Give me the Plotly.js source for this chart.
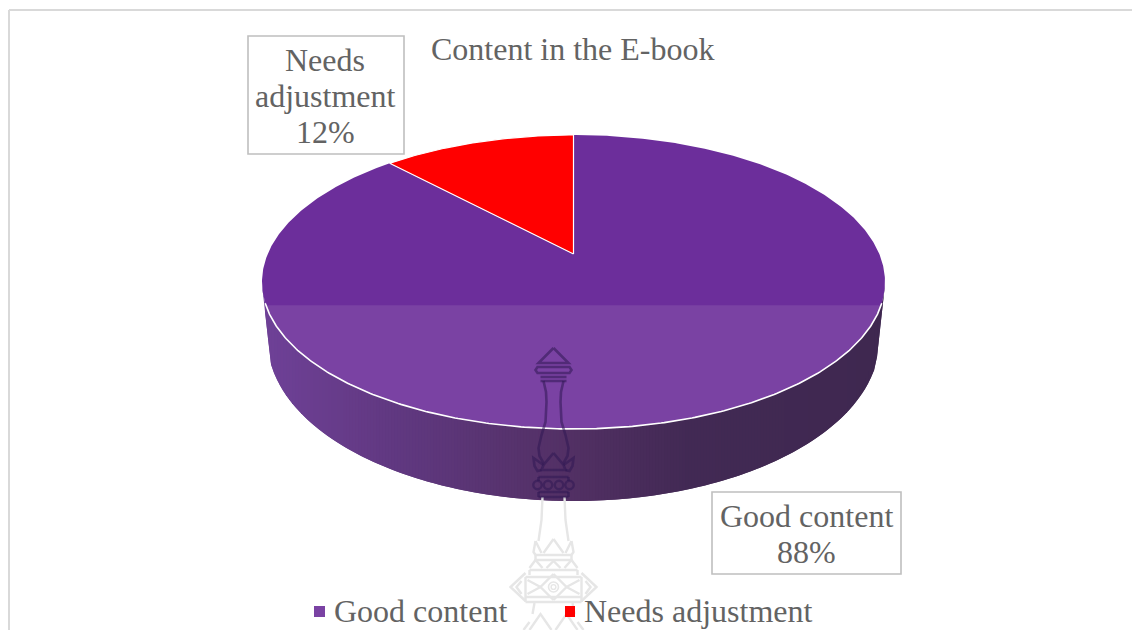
<!DOCTYPE html>
<html>
<head>
<meta charset="utf-8">
<script src="https://cdn.plot.ly/plotly-3.0.1.min.js"></script>
<style>html,body{margin:0;padding:0;background:#fff;overflow:hidden}</style>
</head>
<body>
<div id="chart" style="width:1132px;height:630px"></div>
<script>
// Chart content
const chartTitle = 'Content in the E-book';
const categories = ['Good content', 'Needs adjustment'];
const shares = [88, 12];
const sliceColors = ['#6C2E9B', '#FF0000'];
const legendColors = ['#7A42A3', '#FF0000'];

// Perspective disc model: the pie is a unit circle seen from the front.
const cx = 573.5, tilt = 0.1905;
const topDisc = {a: 305.8, b: 141.67, y0: 254};
const baseDisc = {a: 300.4, b: 155.2, y0: 309.3};

function project(disc, deg) {
  const t = deg * Math.PI / 180, X = Math.sin(t), Y = Math.cos(t), w = 1 + tilt * Y;
  return [cx + disc.a * X / w, disc.y0 - disc.b * Y / w];
}
function arc(disc, from, to, step) {
  const pts = [], n = Math.max(2, Math.ceil(Math.abs(to - from) / (step || 0.5)));
  for (let i = 0; i <= n; i++) pts.push(project(disc, from + (to - from) * i / n));
  return pts;
}
function area(pts, color, lineColor, lineWidth) {
  return {
    type: 'scatter', mode: 'lines', x: pts.map(p => p[0]), y: pts.map(p => p[1]),
    fill: 'toself', fillcolor: color, hoverinfo: 'skip', showlegend: false,
    line: {color: lineColor || color, width: lineWidth === undefined ? 0 : lineWidth}
  };
}
function mix(stops, x) {
  for (let i = 1; i < stops.length; i++) {
    if (x <= stops[i][0]) {
      const f = Math.max(0, (x - stops[i-1][0]) / (stops[i][0] - stops[i-1][0]));
      const c = stops[i-1][1].map((v, k) => Math.round(v + (stops[i][1][k] - v) * f));
      return 'rgb(' + c.join(',') + ')';
    }
  }
  return 'rgb(' + stops[stops.length-1][1].join(',') + ')';
}
// Height of a left-to-right polyline at a given x
function heightAt(poly, x) {
  if (x <= poly[0][0]) return poly[0][1];
  for (let i = 1; i < poly.length; i++) {
    if (x <= poly[i][0]) {
      const f = (x - poly[i-1][0]) / ((poly[i][0] - poly[i-1][0]) || 1);
      return poly[i-1][1] + (poly[i][1] - poly[i-1][1]) * f;
    }
  }
  return poly[poly.length-1][1];
}

const traces = [];

// Side wall, shaded from left to right in overlapping vertical strips
const wallStops = [[270,[110,64,150]],[400,[96,56,128]],[570,[82,48,100]],[690,[66,41,84]],[880,[63,40,80]]];
const wallFrom = 251, wallTo = 109;
const upperEdge = arc(topDisc, 258, 102);
const lowerEdge = [project(topDisc, 258)].concat(arc(baseDisc, wallFrom, wallTo)).concat([project(topDisc, 102)]);
const wallLeft = upperEdge[0][0], wallRight = upperEdge[upperEdge.length-1][0], stripWidth = 3;
for (let x = wallLeft; x < wallRight; x += stripWidth) {
  const x2 = Math.min(wallRight, x + stripWidth * 2);
  const xs = [x, (x + x2) / 2, x2];
  const poly = xs.map(v => [v, heightAt(upperEdge, v)])
    .concat(xs.slice().reverse().map(v => [v, heightAt(lowerEdge, v)]));
  traces.push(area(poly.concat([poly[0]]), mix(wallStops, x + stripWidth / 2)));
}

// Top face: slices run clockwise from twelve o'clock
const total = shares.reduce((s, v) => s + v, 0);
const apex = [cx, topDisc.y0];
let start = 0;
const sliceOutlines = shares.map(v => {
  const end = start + v / total * 360;
  const pts = [apex].concat(arc(topDisc, start, end)).concat([apex]);
  start = end;
  return pts;
});
traces.push(area(sliceOutlines[0], sliceColors[0]));

// Lighter band across the front of the top face
const seamY = 305;
const band = arc(topDisc, 80, 280, 0.25).filter(p => p[1] >= seamY);
traces.push(area(band.concat([band[0]]), '#7A42A3'));

traces.push(area(sliceOutlines[1], sliceColors[1], '#FFFFFF', 1.2));

// White rim along the front edge
const rim = arc(topDisc, wallTo, wallFrom);
traces.push({type: 'scatter', mode: 'lines', x: rim.map(p => p[0]), y: rim.map(p => p[1]),
  hoverinfo: 'skip', showlegend: false, line: {color: '#FFFFFF', width: 1.6}});

// Page crest: a tall finial, drawn with mirrored outlines
const crestX = 553.5;
function side(half, sign) {
  return 'M' + half.map(p => (crestX + sign * p[0]) + ',' + p[1]).join(' L');
}
function crestMirror(half) { return side(half, 1) + ' ' + side(half, -1); }
function crestLine(d, color, w) {
  return {type: 'path', path: d, layer: 'above', xref: 'x', yref: 'y',
    line: {color: color, width: w}, fillcolor: 'rgba(0,0,0,0)'};
}
function crestCircle(x, y, r, color, w) {
  return {type: 'circle', xref: 'x', yref: 'y', x0: x - r, x1: x + r, y0: y - r, y1: y + r,
    layer: 'above', line: {color: color, width: w}, fillcolor: 'rgba(0,0,0,0)'};
}
const dark = 'rgba(48,24,84,0.55)', pale = '#E6E6E6';
const darkParts = [
  [[0,348],[15,363],[-15,363]].concat([[0,348]]),
  [[-16,367],[16,367],[18,370],[16,373],[-16,373]],
  [[13,377],[-13,377]],
  [[13,381],[-13,381]],
  [[10,381],[7.5,392],[7,402],[8,422],[12,435],[15,448],[14,456],[10,463]],
  [[0,453],[10,465],[12,470],[-12,470]],
  [[10,465],[20,458],[19,466],[16,471],[12,470]],
  [[15,477],[-15,477]],
  [[15,477],[15,481]],
  [[15,492],[-15,492]],
  [[15,497],[-15,497]],
  [[15,492],[15,497]]
];
const paleParts = [
  [[11,497],[12,520],[15,541]],
  [[0,539],[10,553]],
  [[18,541],[14,549],[12,553]],
  [[18,541],[20,552],[18,555]],
  [[18,555],[-18,555]],
  [[18,560],[-18,560]],
  [[18,555],[18,560]],
  [[7,568],[0,561],[-7,568]],
  [[11,568],[18,560],[24,568]],
  [[24,570],[-24,570]],
  [[24,570],[24,575]],
  [[28,577],[-28,577]],
  [[28,597],[-28,597]],
  [[28,602],[-28,602]],
  [[28,577],[28,602]],
  [[28,573],[43,587],[28,601]],
  [[32,581],[37,587],[32,594]],
  [[0,574],[13,587],[0,600]],
  [[13,587],[26,580]],
  [[13,587],[26,594]],
  [[19,603],[21,614]],
  [[2,630],[13,614],[24,630]],
  [[30,630],[24,622]]
];
const shapes = []
  .concat(paleParts.map(p => crestLine(crestMirror(p), pale, 2.4)))
  .concat([crestCircle(crestX, 587, 5, pale, 1.6), crestCircle(crestX, 587, 2.4, pale, 1.4)])
  .concat(darkParts.map(p => crestLine(crestMirror(p), dark, 2.6)))
  .concat([-16, -5.5, 5.5, 16].map(dx => crestCircle(crestX + dx, 485, 4.2, dark, 2.4)));

// Frame of the chart area, top and left only reach the window
shapes.push({type: 'line', xref: 'x', yref: 'y', x0: 9, x1: 1132, y0: 10, y1: 10, layer: 'below', line: {color: '#D9D9D9', width: 2}});
shapes.push({type: 'line', xref: 'x', yref: 'y', x0: 9, x1: 9, y0: 10, y1: 630, layer: 'below', line: {color: '#D9D9D9', width: 2}});

// Data label boxes
[[248, 36, 404, 154], [712, 492, 901, 574]].forEach(b => shapes.push({
  type: 'rect', xref: 'x', yref: 'y', x0: b[0], y0: b[1], x1: b[2], y1: b[3], layer: 'above',
  line: {color: '#BFBFBF', width: 1.6}, fillcolor: 'rgba(255,255,255,0.95)'
}));

// Legend keys
[[314, 606, 325, 617], [565, 606, 575, 617]].forEach((b, i) => shapes.push({
  type: 'rect', xref: 'x', yref: 'y', x0: b[0], y0: b[1], x1: b[2], y1: b[3], layer: 'above',
  line: {width: 0}, fillcolor: legendColors[i]
}));

const textFont = {family: '"Liberation Serif", "Times New Roman", serif', size: 32, color: '#636363'};
function label(text, x, y, anchor) {
  return {text: text, x: x, y: y, xref: 'x', yref: 'y', showarrow: false,
    xanchor: anchor || 'center', yanchor: 'middle', font: textFont, borderpad: 0};
}
const annotations = [
  label(chartTitle, 430, 49, 'left'),
  label('Needs', 325, 59.5),
  label('adjustment', 325, 95.5),
  label(shares[1] + '%', 325, 132),
  label(categories[0], 806, 516),
  label(shares[0] + '%', 806, 552),
  label(categories[0], 333, 611, 'left'),
  label(categories[1], 583, 611, 'left')
];

Plotly.newPlot('chart', traces, {
  width: 1132, height: 630, autosize: false,
  margin: {l: 0, r: 0, t: 0, b: 0},
  paper_bgcolor: '#FFFFFF', plot_bgcolor: 'rgba(0,0,0,0)',
  showlegend: false,
  xaxis: {range: [0, 1132], visible: false, fixedrange: true},
  yaxis: {range: [630, 0], visible: false, fixedrange: true},
  shapes: shapes, annotations: annotations
}, {displayModeBar: false, staticPlot: true});
</script>
</body>
</html>
